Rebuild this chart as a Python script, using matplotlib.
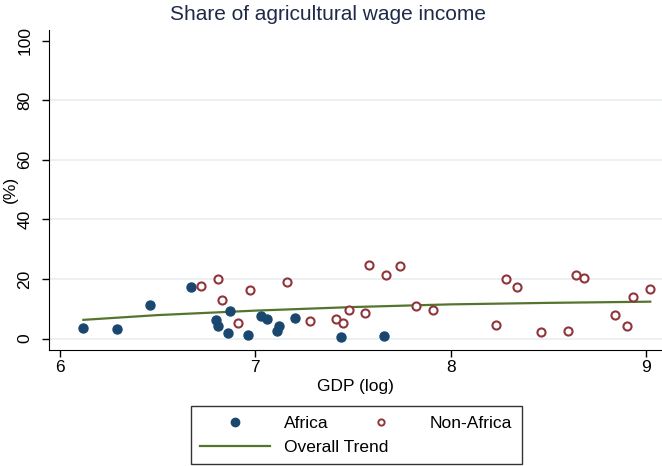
import matplotlib
matplotlib.use("Agg")
import matplotlib.pyplot as plt
from matplotlib.lines import Line2D

plt.rcParams['font.family'] = ['Liberation Sans', 'DejaVu Sans']

# Africa (filled markers)
africa_gdp = [6.12, 6.29, 6.46, 6.67, 6.80, 6.81, 6.87, 6.86, 6.96, 7.03,
              7.06, 7.11, 7.12, 7.20, 7.44, 7.66]
africa_share = [3.6, 3.1, 11.2, 17.3, 6.3, 4.4, 9.2, 1.8, 1.3, 7.7,
                6.5, 2.5, 4.2, 6.9, 0.5, 0.8]

# Non-Africa (hollow markers)
nonafrica_gdp = [6.72, 6.81, 6.83, 6.91, 6.97, 7.16, 7.28, 7.41, 7.45, 7.48,
                 7.56, 7.58, 7.67, 7.74, 7.82, 7.91, 8.23, 8.28, 8.34, 8.46,
                 8.60, 8.64, 8.68, 8.84, 8.90, 8.93, 9.02]
nonafrica_share = [17.7, 20.0, 12.8, 5.4, 16.2, 18.9, 5.8, 6.5, 5.4, 9.6,
                   8.7, 24.7, 21.4, 24.4, 10.9, 9.5, 4.7, 19.9, 17.3, 2.2,
                   2.7, 21.5, 20.3, 7.8, 4.4, 14.0, 16.8]

# Overall trend
trend_gdp = [6.12, 6.5, 7.0, 7.5, 8.0, 8.5, 9.02]
trend_share = [6.3, 7.9, 9.4, 10.6, 11.5, 12.0, 12.4]

navy = "#1a476f"
maroon = "#90353b"
green = "#55752f"

fig = plt.figure(figsize=(6.62, 4.66), dpi=100)
ax = fig.add_axes([0.074, 0.249, 0.926, 0.687])

for y in [0, 20, 40, 60, 80]:
    ax.axhline(y, color="#e8eff1", lw=1.2, zorder=0)

ax.plot(trend_gdp, trend_share, color=green, lw=1.6, zorder=2)
ax.scatter(africa_gdp, africa_share, s=42, color=navy, zorder=3)
ax.scatter(nonafrica_gdp, nonafrica_share, s=34, facecolors="white",
           edgecolors=maroon, linewidths=1.5, zorder=3)

ax.set_xlim(5.944, 9.08)
ax.set_ylim(-3.8, 103.6)
ax.set_xticks([6, 7, 8, 9])
ax.set_yticks([0, 20, 40, 60, 80, 100])
ax.tick_params(axis="both", labelsize=12.5, length=5, width=1)
ax.tick_params(axis="x", pad=2)
ax.tick_params(axis="y", pad=7)
for lbl in ax.get_yticklabels():
    lbl.set_rotation(90)
    lbl.set_va("center")
ax.spines["top"].set_visible(False)
ax.spines["right"].set_visible(False)

ax.set_xlabel("GDP (log)", fontsize=12.5, labelpad=3)
ax.set_ylabel("(%)", fontsize=12.5)
ax.yaxis.set_label_coords(-0.05, 0.5)

fig.text(0.496, 0.968, "Share of agricultural wage income", fontsize=15,
         color="#1e2a48", ha="center", va="center")

handles = [
    Line2D([], [], marker="o", ls="", color=navy, markersize=6),
    Line2D([], [], color=green, lw=1.6),
    Line2D([], [], marker="o", ls="", markerfacecolor="white",
           markeredgecolor=maroon, markeredgewidth=1.4, markersize=4.5),
]
labels = ["Africa", "Overall Trend", "Non-Africa"]
leg = fig.legend(handles, labels, ncol=2, loc="center",
                 bbox_to_anchor=(0.538, 0.066), fontsize=12.5,
                 frameon=True, fancybox=False, edgecolor="black",
                 handlelength=4.0, handletextpad=0.8, columnspacing=-2.4,
                 labelspacing=0.5, borderpad=0.55, borderaxespad=0)
leg.get_frame().set_linewidth(1.0)

fig.savefig("out.png", dpi=100)
